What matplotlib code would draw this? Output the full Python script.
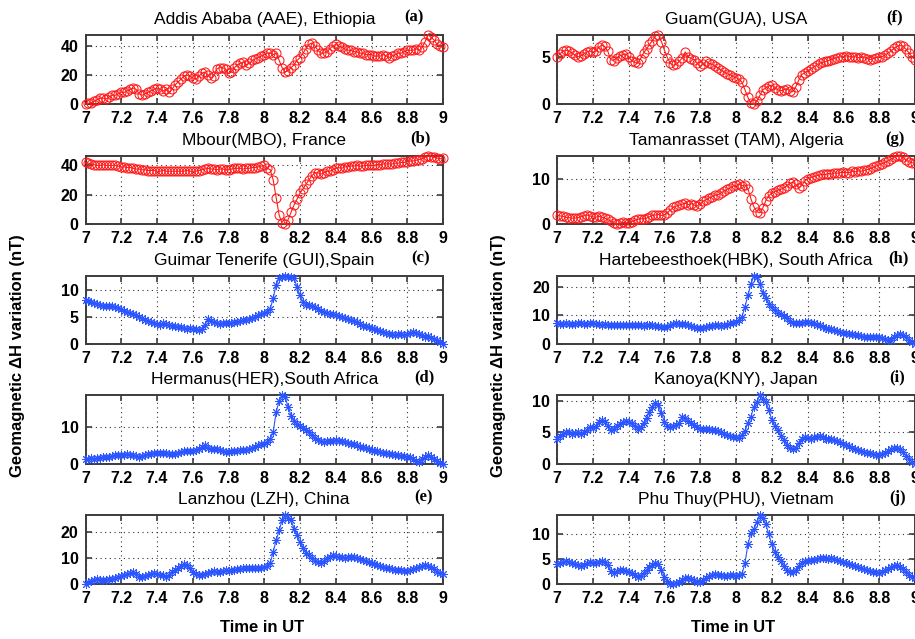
import numpy as np
import matplotlib
matplotlib.use('Agg')
import matplotlib.pyplot as plt
from matplotlib.ticker import FormatStrFormatter

# Time axis: 1-minute samples from 7 UT to 9 UT
time_ut = 7 + np.arange(121) / 60.0
x_ticks = [7, 7.2, 7.4, 7.6, 7.8, 8, 8.2, 8.4, 8.6, 8.8, 9]

# ---- Left column (a-e) ----
title_a = "Addis Ababa (AAE), Ethiopia"
aae = [0, 0.5, 1, 2, 3, 4,
       4, 3.5, 5, 6, 6, 7,
       8, 8, 9, 10, 11, 10,
       7, 6, 7, 8, 9, 10,
       11, 10, 9, 10, 8, 10,
       13, 15, 17, 19, 20, 19,
       18, 17, 19, 21, 22, 20,
       18, 19, 24, 25, 25, 24,
       21, 22, 25, 27, 28, 29,
       27, 28, 30, 31, 32, 33,
       34, 35, 35, 34, 35, 30,
       25, 22, 23, 25, 27, 30,
       32, 35, 38, 41, 42, 40,
       37, 35, 35, 36, 38, 40,
       41, 40, 39, 38, 37, 37,
       36, 36, 35, 35, 34, 34,
       34, 33, 33, 33, 34, 33,
       32, 33, 34, 35, 35, 36,
       37, 37, 37, 38, 37, 39,
       43, 47.5, 46, 44, 41, 40,
       39]
yt_a = [0, 20, 40]

title_b = "Mbour(MBO), France"
mbo = [42, 41.5, 41, 40.5, 40, 40,
       40.5, 40, 40, 40, 40, 39.5,
       39, 39, 38.5, 38.5, 38, 37.5,
       37.5, 37, 37, 36.5, 36.5, 36.5,
       36, 36, 36.5, 36, 36, 36,
       36, 36, 36, 36, 36.5, 36,
       36, 36, 36.5, 37, 37.5, 38,
       37.5, 37.5, 37, 37.5, 37.5, 37,
       37, 37.5, 38, 38, 38, 37.5,
       38, 38, 38.5, 38.5, 39, 39.5,
       40, 38, 37, 30, 18, 6,
       0.5, 0, 3, 8, 13, 17,
       21, 24, 27, 30, 33, 35,
       35, 34, 35, 36, 36, 37,
       38, 38.5, 38, 39, 39, 39.5,
       39.5, 40, 39.5, 39.5, 40, 40,
       40, 40, 40.5, 40.5, 41, 41,
       41, 41, 41.5, 41.5, 42, 42,
       42.5, 43, 43, 43.5, 44, 44.5,
       45.5, 46.4, 46, 45.5, 45, 44.5,
       45]
yt_b = [0, 20, 40]

title_c = "Guimar Tenerife (GUI),Spain"
gui = [8.1, 7.9, 7.8, 7.6, 7.5, 7.3,
       7.1, 7.0, 7.1, 7.0, 6.9, 6.7,
       6.5, 6.2, 6.0, 5.8, 5.5, 5.3,
       5.0, 4.8, 4.5, 4.3, 4.0, 3.8,
       3.7, 3.6, 3.8, 3.7, 3.6, 3.4,
       3.3, 3.2, 3.2, 3.0, 2.8, 3.0,
       2.8, 2.7, 2.6, 2.8, 3.5, 4.6,
       4.2, 4.0, 3.8, 3.7, 3.9, 3.8,
       3.8, 3.9, 4.0, 4.0, 4.2, 4.4,
       4.5, 4.6, 4.8, 5.0, 5.3, 5.5,
       5.7, 6.0, 6.5, 8.5, 11.0, 12.3,
       12.5, 12.6, 12.5, 12.4, 12.2, 10.5,
       9.0, 7.8, 7.3, 7.2, 7.0, 6.8,
       6.5, 6.2, 6.0, 5.8, 5.6, 5.5,
       5.4, 5.2, 5.0, 4.9, 4.7, 4.5,
       4.3, 4.1, 3.7, 3.4, 3.3, 3.1,
       3.0, 2.8, 2.6, 2.4, 2.2, 2.0,
       1.9, 1.8, 1.7, 1.9, 1.8, 1.7,
       1.8, 2.0, 2.2, 2.0, 1.9, 1.6,
       1.3, 1.5, 1.2, 1.0, 0.7, 0.3,
       0.0]
yt_c = [0, 5, 10]

title_d = "Hermanus(HER),South Africa"
her = [1.3, 1.4, 1.5, 1.4, 1.6, 1.7,
       1.8, 1.9, 2.0, 2.2, 2.3, 2.4,
       2.5, 2.4, 2.6, 2.5, 2.3, 2.1,
       2.0, 2.2, 2.4, 2.6, 2.8, 3.0,
       3.0, 3.1, 2.9, 3.0, 2.8, 2.7,
       2.8, 3.0, 3.3, 3.4, 3.5, 3.4,
       3.5, 3.8, 4.1, 4.5, 5.0, 4.4,
       4.0, 4.1, 4.0, 3.8, 3.5, 3.3,
       3.3, 3.4, 3.6, 3.5, 3.7, 3.9,
       3.8, 4.0, 4.3, 4.6, 5.0, 5.3,
       5.5, 6.0, 6.8, 8.6, 14.0, 17.0,
       18.6, 18.0, 15.5, 13.0, 11.5, 10.8,
       10.2, 9.8, 9.2, 8.6, 7.8, 7.0,
       6.5, 6.2, 6.0, 6.1, 6.2, 6.3,
       6.5, 6.3, 6.1, 6.0, 5.7, 5.5,
       5.3, 5.0, 4.7, 4.5, 4.3, 4.0,
       3.8, 3.6, 3.4, 3.2, 3.0, 2.9,
       2.8, 2.6, 2.5, 2.3, 2.2, 2.1,
       2.0, 1.8, 1.3, 0.8, 0.6, 1.4,
       2.0, 2.4, 2.0, 1.4, 0.8, 0.4,
       0.0]
yt_d = [0, 10]

title_e = "Lanzhou (LZH), China"
lzh = [0.0, 0.8, 1.2, 1.5, 2.0, 1.7,
       1.5, 1.6, 1.8, 2.0, 2.3, 2.6,
       3.0, 3.3, 3.7, 4.1, 4.5, 4.0,
       2.5, 2.8, 3.2, 3.6, 4.0, 4.2,
       4.0, 3.6, 3.3, 2.7, 3.5, 4.5,
       5.3, 6.0, 6.8, 7.5, 7.2, 6.0,
       4.5, 3.8, 3.5, 3.6, 4.0, 4.4,
       4.8, 5.0, 4.8, 4.7, 5.0, 5.2,
       5.0, 5.2, 5.5, 5.6, 5.8, 6.0,
       6.0, 6.1, 6.0, 6.2, 6.1, 6.3,
       6.5, 7.0, 8.0, 12.3, 16.8, 20.6,
       24.5, 26.5, 25.5, 24.5, 21.3, 18.7,
       16.0, 14.0, 12.0, 11.0, 10.0, 9.0,
       8.3, 8.2, 9.0, 9.8, 10.5, 11.0,
       10.7, 10.4, 10.2, 10.0, 10.3, 10.5,
       10.2, 9.8, 9.5, 9.2, 9.0, 8.5,
       8.0, 7.6, 7.2, 6.8, 6.6, 6.3,
       6.0, 5.8, 5.5, 5.3, 5.2, 5.1,
       5.0, 5.3, 5.7, 6.0, 6.4, 6.8,
       7.2, 6.9, 6.4, 5.6, 4.8, 4.2,
       3.8]
yt_e = [0, 10, 20]

# ---- Right column (f-j) ----
title_f = "Guam(GUA), USA"
gua = [5.0, 5.3, 5.6, 5.7, 5.6, 5.4,
       5.2, 5.0, 5.1, 5.3, 5.5, 5.6,
       5.5, 5.6, 6.0, 6.2, 6.1, 5.6,
       4.7, 4.6, 4.9, 5.1, 5.2, 5.3,
       5.0, 4.6, 4.4, 4.3, 4.8, 5.4,
       5.8, 6.3, 6.7, 7.2, 7.3, 6.6,
       5.7, 4.9, 4.3, 4.1, 4.2, 4.5,
       4.9, 5.5, 5.0, 4.8, 4.7, 4.3,
       4.0, 4.2, 4.5, 4.3, 4.2, 4.0,
       3.8, 3.6, 3.4, 3.2, 3.1, 2.9,
       2.8, 2.6, 2.3, 1.5, 0.7, 0.1,
       0.0, 0.3, 0.9, 1.5, 1.7, 1.9,
       2.0, 1.7, 1.5, 1.4, 1.5, 1.6,
       1.4, 1.3, 1.8, 2.5, 3.1, 3.3,
       3.5, 3.7, 3.9, 4.1, 4.3, 4.4,
       4.5, 4.6, 4.7, 4.8, 4.9, 5.0,
       5.0, 5.1, 5.0, 5.0, 5.0, 4.9,
       5.0, 4.9, 4.8, 4.7, 4.8, 4.9,
       5.0, 5.0, 5.2, 5.4, 5.6, 5.9,
       6.1, 6.2, 6.1, 5.8, 5.4, 5.0,
       4.7]
yt_f = [0, 5]

title_g = "Tamanrasset (TAM), Algeria"
tam = [2.0, 1.8, 1.7, 1.5, 1.4, 1.3,
       1.3, 1.4, 1.6, 1.8, 2.0, 1.8,
       1.6, 1.5, 1.7, 1.5, 1.3, 1.0,
       0.6, 0.3, 0.0, 0.2, 0.4, 0.3,
       0.3, 0.5, 0.8, 1.0, 1.2, 1.1,
       1.3, 1.6, 1.9, 2.0, 2.1, 1.9,
       2.0, 2.5, 3.1, 3.7, 4.0, 4.2,
       4.4, 4.6, 4.3, 4.5, 4.2, 4.0,
       4.5, 5.0, 5.4, 5.8, 6.1, 6.4,
       6.5, 6.9, 7.3, 7.7, 8.0, 8.4,
       8.6, 8.8, 8.5, 8.7, 7.8, 5.6,
       3.8, 2.7, 2.5, 3.6, 5.2, 6.3,
       6.8, 7.2, 7.5, 7.7, 8.0, 8.5,
       9.0, 9.3, 8.8, 8.1, 8.5, 9.5,
       10.0, 10.3, 10.5, 10.7, 10.9, 11.0,
       11.0, 11.2, 11.1, 11.3, 11.3, 11.4,
       11.5, 11.4, 11.4, 11.7, 11.6, 11.8,
       11.7, 11.9, 12.1, 12.3, 12.6, 12.9,
       13.1, 13.4, 13.7, 14.0, 14.4, 14.8,
       15.1, 15.0, 14.8, 14.2, 13.8, 13.6,
       13.6]
yt_g = [0, 10]

title_h = "Hartebeesthoek(HBK), South Africa"
hbk = [7.2, 7.1, 7.0, 7.2, 7.0, 7.1,
       7.0, 7.2, 7.3, 7.1, 7.0, 7.2,
       7.3, 7.1, 7.0, 6.8, 6.9, 6.7,
       6.5, 6.6, 6.8, 6.6, 6.5, 6.7,
       6.8, 6.6, 6.5, 6.7, 6.6, 6.4,
       6.5, 6.7, 6.6, 6.4, 6.2, 6.0,
       5.9, 6.1, 6.5, 7.0, 7.3, 7.1,
       6.9, 7.1, 6.8, 6.4, 5.9, 5.6,
       5.5, 5.7, 6.0, 6.2, 6.4, 6.5,
       6.6, 6.4, 6.5, 6.8, 7.2, 7.5,
       7.8, 8.3, 9.5, 13.0, 17.0, 21.0,
       23.8, 23.5, 21.0, 18.0, 16.0, 14.0,
       12.8, 11.8, 11.0, 10.4, 9.8, 9.0,
       8.0, 7.5, 7.4, 7.3, 7.5, 7.6,
       7.6, 7.5, 7.2, 6.8, 6.5, 6.0,
       5.6, 5.4, 5.1, 4.8, 4.5, 4.2,
       4.0, 3.8, 3.6, 3.4, 3.2, 3.0,
       2.8, 2.6, 2.4, 2.3, 2.5, 2.6,
       2.4, 2.0, 1.6, 1.3, 1.5, 2.5,
       3.3, 3.5, 3.0, 2.3, 1.5, 0.6,
       0.0]
yt_h = [0, 10, 20]

title_i = "Kanoya(KNY), Japan"
kny = [4.0, 4.4, 4.8, 5.1, 5.0, 4.8,
       4.9, 5.0, 4.8, 5.1, 5.4, 5.8,
       5.7, 6.0, 6.6, 7.0, 6.7, 6.0,
       5.3, 5.6, 6.0, 6.3, 6.6, 6.8,
       6.7, 6.4, 6.0, 5.6, 5.8, 6.5,
       7.3, 8.2, 9.0, 9.7, 9.3, 8.0,
       6.7, 6.0, 5.9, 6.0, 6.2, 6.4,
       7.5, 7.2, 6.8, 6.5, 6.2, 5.8,
       5.6, 5.5, 5.6, 5.5, 5.4, 5.3,
       5.2, 5.0, 4.8, 4.6, 4.4, 4.3,
       4.2, 4.1, 4.6, 5.2, 6.5, 7.5,
       9.0, 9.8, 10.9, 10.2, 9.8, 8.6,
       7.0, 6.0, 5.3, 4.5, 3.8, 3.0,
       2.5, 2.3, 2.6, 3.3, 4.0, 4.3,
       4.1, 4.0, 4.2, 4.3, 4.4, 4.2,
       4.0, 4.0, 3.9, 3.8, 3.6, 3.5,
       3.2, 3.0, 2.8, 2.6, 2.4, 2.2,
       2.0, 1.9, 1.8, 1.7, 1.6, 1.5,
       1.5, 1.6, 1.8, 2.0, 2.3, 2.5,
       2.5, 2.3, 1.9, 1.3, 0.8, 0.3,
       0.0]
yt_i = [0, 5, 10]

title_j = "Phu Thuy(PHU), Vietnam"
phu = [4.0, 4.2, 4.4, 4.6, 4.5, 4.2,
       4.0, 3.8, 3.7, 3.9, 4.2, 4.4,
       4.3, 4.2, 4.5, 4.7, 4.4, 3.8,
       2.6, 2.3, 2.6, 2.9, 2.8, 2.6,
       2.4, 2.2, 1.8, 1.4, 1.6, 2.2,
       2.8, 3.4, 3.9, 4.3, 4.0, 2.8,
       1.5, 0.6, 0.1, 0.0, 0.2, 0.5,
       0.9, 1.3, 1.2, 1.1, 0.8, 0.5,
       0.5, 0.8, 1.3, 1.6, 1.9, 2.0,
       1.9, 1.8, 1.7, 1.6, 1.8, 1.8,
       1.7, 1.8, 2.0, 4.2, 8.0, 10.3,
       11.0, 12.5, 13.9, 13.2, 12.0, 10.0,
       8.0, 6.5, 5.5, 4.6, 3.6, 2.8,
       2.5, 2.4, 2.9, 3.6, 4.3, 4.6,
       4.7, 4.8, 4.9, 5.0, 5.2, 5.3,
       5.2, 5.1, 5.2, 5.0, 4.8, 4.6,
       4.4, 4.2, 4.0, 3.8, 3.6, 3.4,
       3.2, 3.0, 2.8, 2.7, 2.5, 2.4,
       2.3, 2.5, 2.8, 3.1, 3.4, 3.7,
       3.8, 3.5, 3.0, 2.4, 1.9, 1.5,
       1.2]
yt_j = [0, 5, 10]

left_panels = [(title_a, aae, yt_a, '(a)', 'r'),
               (title_b, mbo, yt_b, '(b)', 'r'),
               (title_c, gui, yt_c, '(c)', 'b'),
               (title_d, her, yt_d, '(d)', 'b'),
               (title_e, lzh, yt_e, '(e)', 'b')]
right_panels = [(title_f, gua, yt_f, '(f)', 'r'),
                (title_g, tam, yt_g, '(g)', 'r'),
                (title_h, hbk, yt_h, '(h)', 'b'),
                (title_i, kny, yt_i, '(i)', 'b'),
                (title_j, phu, yt_j, '(j)', 'b')]

W, H = 915, 639
fig = plt.figure(figsize=(W / 100, H / 100), dpi=100)
plt.rcParams['font.family'] = ['Liberation Sans', 'DejaVu Sans']

rows_px = [(35, 104), (156, 224), (276, 344), (395, 464), (515, 584)]
cols_px = [(85.5, 443), (557, 915)]
label_x = [[0.92, 0.938, 0.938, 0.948, 0.945], [0.944, 0.944, 0.953, 0.95, 0.95]]

RED = '#ff1a1a'
BLUE = '#2a55ff'

for ci, panels in enumerate([left_panels, right_panels]):
    x0, x1 = cols_px[ci]
    for ri, (title, vals, yt, lab, col) in enumerate(panels):
        top, bot = rows_px[ri]
        ax = fig.add_axes([x0 / W, 1 - bot / H, (x1 - x0) / W, (bot - top) / H])
        vals = np.asarray(vals, dtype=float)
        if col == 'r':
            ax.plot(time_ut, vals, color=RED, lw=0.8, marker='o', ms=6.5,
                    mfc='none', mec=RED, mew=0.75, clip_on=False, zorder=3)
        else:
            ax.plot(time_ut, vals, color=BLUE, lw=0.8, marker=(8, 2, 0), ms=6.5,
                    mec=BLUE, mew=0.7, clip_on=False, zorder=3)
        ax.set_xlim(7, 9)
        ax.set_ylim(vals.min(), vals.max())
        ax.set_xticks(x_ticks)
        ax.set_yticks(yt)
        ax.xaxis.set_major_formatter(FormatStrFormatter('%g'))
        ax.yaxis.set_major_formatter(FormatStrFormatter('%g'))
        ax.grid(True, color='#333333', linestyle=(0, (1, 3.2)), lw=0.8)
        ax.set_axisbelow(True)
        for s in ax.spines.values():
            s.set_color('#3c3c3c')
            s.set_linewidth(1.4)
        ax.tick_params(direction='in', length=4, width=1.2, top=True, right=True,
                       color='#3c3c3c', labelsize=11.5, pad=5)
        for t in ax.get_xticklabels() + ax.get_yticklabels():
            t.set_fontweight('bold')
        ax.set_title(title, fontsize=12.5, pad=8)
        ax.annotate(lab, xy=(label_x[ci][ri], 1), xycoords='axes fraction',
                    xytext=(0, 12.5), textcoords='offset points', ha='center', va='center',
                    fontsize=12, fontweight='bold', family=['Liberation Serif', 'DejaVu Serif'])

ylab = 'Geomagnetic \u0394H variation (nT)'
fig.text(18 / W, 1 - 356 / H, ylab, rotation=90, ha='center', va='center',
         fontsize=12, fontweight='bold')
fig.text(499 / W, 1 - 356 / H, ylab, rotation=90, ha='center', va='center',
         fontsize=12, fontweight='bold')
fig.text(262 / W, 1 - 628 / H, 'Time in UT', ha='center', va='center',
         fontsize=12, fontweight='bold')
fig.text(733 / W, 1 - 628 / H, 'Time in UT', ha='center', va='center',
         fontsize=12, fontweight='bold')

fig.savefig('out.png', dpi=100, facecolor='white')
